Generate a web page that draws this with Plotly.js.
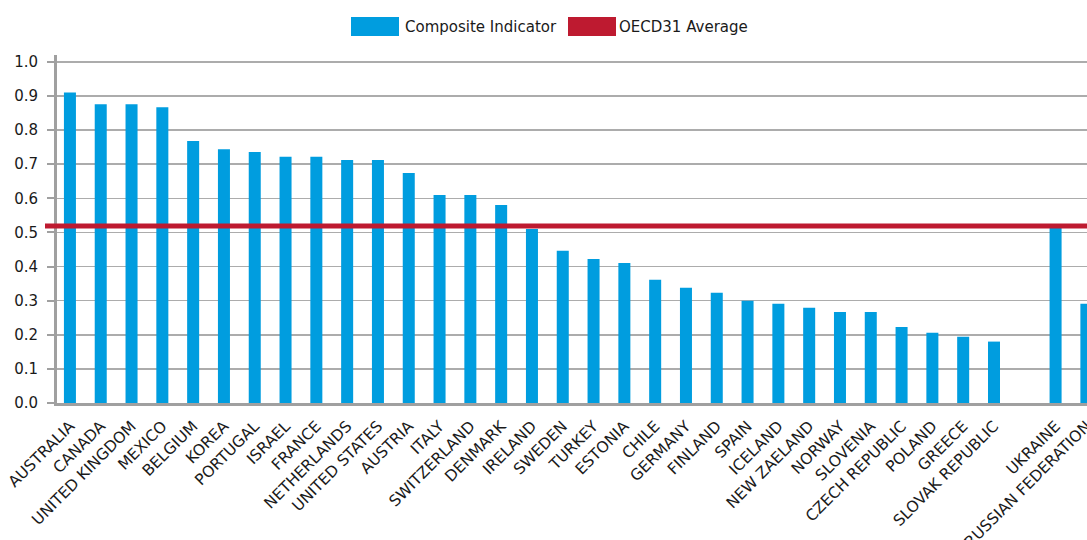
<!DOCTYPE html>
<html>
<head>
<meta charset="utf-8">
<script src="https://cdn.plot.ly/plotly-3.0.1.min.js"></script>
<style>html,body{margin:0;padding:0;background:#fff;}#chart{width:1087px;height:540px;}</style>
</head>
<body>
<div id="chart"></div>
<script>
const oecdCountries = ['AUSTRALIA','CANADA','UNITED KINGDOM','MEXICO','BELGIUM','KOREA','PORTUGAL','ISRAEL','FRANCE','NETHERLANDS','UNITED STATES','AUSTRIA','ITALY','SWITZERLAND','DENMARK','IRELAND','SWEDEN','TURKEY','ESTONIA','CHILE','GERMANY','FINLAND','SPAIN','ICELAND','NEW ZAELAND','NORWAY','SLOVENIA','CZECH REPUBLIC','POLAND','GREECE','SLOVAK REPUBLIC'];
const oecdValues = [0.910,0.876,0.876,0.867,0.768,0.744,0.736,0.722,0.722,0.712,0.712,0.674,0.610,0.610,0.580,0.510,0.446,0.422,0.410,0.361,0.338,0.323,0.300,0.291,0.279,0.267,0.267,0.223,0.206,0.194,0.180];
const partnerCountries = ['UKRAINE','RUSSIAN FEDERATION'];
const partnerValues = [0.513,0.291];
const oecdAverage = 0.519;
const seriesName = 'Composite Indicator';
const averageName = 'OECD31 Average';

const blue = '#009ddf';
const red = '#be1a30';
const fontFam = 'DejaVu Sans, sans-serif';

const xCats = oecdCountries.concat([' '], partnerCountries);
const yVals = oecdValues.concat([null], partnerValues);

const W = 1087, H = 540, mL = 57, mR = 0, mT = 55, mB = 137;
const pw = W - mL - mR, ph = H - mT - mB;
const px = v => (v - mL) / pw;
const py = v => (H - mB - v) / ph;

const data = [{
  type: 'bar', x: xCats, y: yVals, name: seriesName,
  marker: {color: blue}, showlegend: false, hoverinfo: 'x+y'
}];

const layout = {
  width: W, height: H,
  margin: {l: mL, r: mR, t: mT, b: mB, pad: 0},
  paper_bgcolor: '#fff', plot_bgcolor: '#fff',
  font: {family: fontFam, size: 15, color: '#1a1a1a'},
  bargap: 0.61,
  showlegend: false,
  xaxis: {
    type: 'category', categoryorder: 'array', categoryarray: xCats,
    range: [-0.42, 33.02], tickangle: -45, ticks: '',
    showline: true, linecolor: '#a0a0a0', linewidth: 3,
    showgrid: false, zeroline: false,
    tickfont: {family: fontFam, size: 15.5, color: '#1a1a1a'},
    ticklabelstandoff: 5
  },
  yaxis: {
    range: [0, 1.02], dtick: 0.1, tick0: 0, tickformat: '.1f',
    showline: true, linecolor: '#a0a0a0', linewidth: 3,
    ticks: 'outside', ticklen: 7, tickwidth: 2, tickcolor: '#a0a0a0',
    showgrid: true, gridcolor: '#acacac', gridwidth: 1.5, zeroline: false,
    tickfont: {family: fontFam, size: 15, color: '#1a1a1a'},
    ticklabelstandoff: 6
  },
  shapes: [
    {type: 'line', xref: 'paper', yref: 'y', x0: px(45), x1: 1, y0: oecdAverage, y1: oecdAverage,
     line: {color: red, width: 5}, layer: 'above'},
    {type: 'rect', xref: 'paper', yref: 'paper', x0: px(351), x1: px(399), y0: py(36), y1: py(17),
     fillcolor: blue, line: {width: 0}},
    {type: 'rect', xref: 'paper', yref: 'paper', x0: px(568), x1: px(616), y0: py(36), y1: py(17),
     fillcolor: red, line: {width: 0}}
  ],
  annotations: [
    {xref: 'paper', yref: 'paper', x: px(403), y: py(26.5), xanchor: 'left', yanchor: 'middle',
     text: seriesName, showarrow: false, font: {family: fontFam, size: 15, color: '#1a1a1a'}},
    {xref: 'paper', yref: 'paper', x: px(617), y: py(26.5), xanchor: 'left', yanchor: 'middle',
     text: averageName, showarrow: false, font: {family: fontFam, size: 15, color: '#1a1a1a'}}
  ]
};

Plotly.newPlot('chart', data, layout, {displayModeBar: false, staticPlot: true});
</script>
</body>
</html>
